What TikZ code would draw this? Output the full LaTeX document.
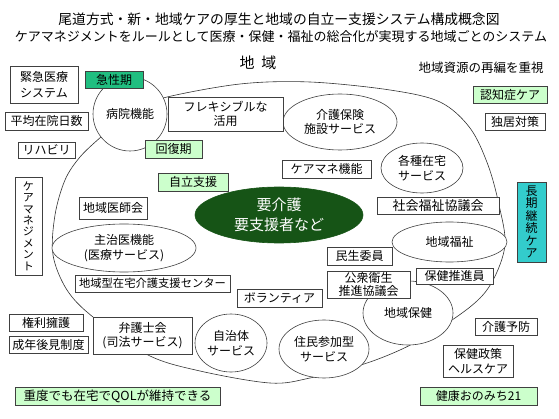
\documentclass[tikz,border=0pt]{standalone}
\usepackage{fontspec}
\setmainfont{Noto Sans CJK JP}
\usepackage{xcolor}
\usetikzlibrary{shapes.geometric}
\definecolor{lgreen}{RGB}{204,255,204}
\definecolor{kgreen}{RGB}{32,190,128}
\definecolor{dgreen}{RGB}{22,84,22}
\definecolor{qteal}{RGB}{51,204,204}
\newcommand{\jsize}[2]{\fontsize{#1}{#2}\selectfont}

\begin{document}
\begin{tikzpicture}[x=1pt,y=-1pt,
  box/.style={draw=black!75, fill=white, line width=0.7pt, inner sep=0pt, align=center, font=\jsize{12}{14.5}},
  gbox/.style={box, fill=lgreen},
  oval/.style={ellipse, draw=black!75, fill=white, line width=0.6pt, inner sep=0pt, align=center, font=\jsize{12}{14.5}},
  lbl/.style={inner sep=0pt, align=center}]

\useasboundingbox (0,0) rectangle (559,419);

% titles
\node[lbl, font=\jsize{13.8}{16}] (title1) at (279,19) {尾道方式・新・地域ケアの厚生と地域の自立ー支援システム構成概念図};
\node[lbl, font=\jsize{13}{16}] (title2) at (281,37) {ケアマネジメントをルールとして医療・保健・福祉の総合化が実現する地域ごとのシステム};
\node[lbl, font=\jsize{15}{16}] (chiiki) at (258,63) {地\hspace{0.45em}域};
\node[lbl, font=\jsize{12.5}{14}] (saihen) at (481,68) {地域資源の再編を重視};

% the region
\draw[line width=0.6pt, black!80] plot [smooth cycle, tension=0.55] coordinates {
 (163,98) (240,84) (310,82) (390,90) (440,102) (470,128) (488,165) (499,205)
 (505,245) (492,282) (470,307) (420,340) (370,362) (310,378) (270,383) (200,371)
 (148,355) (93,317) (67,290) (53,255) (55,215) (65,180) (80,157) (102,136) (130,112)};

% ovals
\node[oval, circle, minimum size=74] (byoin) at (130,114) {病院機能};
\node[oval, minimum width=114, minimum height=56] (kaigohoken) at (340,122) {介護保険\\施設サービス};
\node[oval, minimum width=82, minimum height=50] (kakushu) at (422,168) {各種在宅\\サービス};
\node[oval, minimum width=115, minimum height=40] (fukushi) at (449.5,242) {地域福祉};
\node[oval, minimum width=90, minimum height=64] (hoken) at (408,313) {地域保健};
\node[oval, minimum width=144, minimum height=48] (shuji) at (124,248) {主治医機能\\(医療サービス)};
\node[oval, minimum width=72, minimum height=58] (jichitai) at (231,343) {自治体\\サービス};
\node[oval, minimum width=90, minimum height=58] (jumin) at (324,349) {住民参加型\\サービス};
\node[oval, draw=dgreen, fill=dgreen, text=white, font=\jsize{15}{20}, minimum width=168, minimum height=56] (yokaigo) at (279,215) {要介護\\要支援者など};

% left side
\node[box, minimum width=68, minimum height=37, font=\jsize{12}{16}] (kinkyu) at (44,84.5) {緊急医療\\システム};
\node[box, fill=kgreen, minimum width=58, minimum height=17] (kyusei) at (114,79.5) {急性期};
\node[box, minimum width=115, minimum height=34] (flex) at (225.5,114) {フレキシブルな\\活用};
\node[box, minimum width=83, minimum height=18] (heikin) at (46.5,121) {平均在院日数};
\node[box, minimum width=57, minimum height=16] (rihabiri) at (46.5,150) {リハビリ};
\node[gbox, minimum width=57, minimum height=18] (kaifuku) at (173.5,149) {回復期};
\node[gbox, minimum width=70, minimum height=18] (jiritsu) at (193,182) {自立支援};
\node[box, minimum width=27, minimum height=98, font=\jsize{11}{11.4}] (caremgmt) at (28.5,226) {ケ\\ア\\マ\\ネ\\ジ\\メ\\ン\\ト};
\node[box, minimum width=68, minimum height=22] (ishikai) at (113,208) {地域医師会};
\node[box, minimum width=155, minimum height=17, font=\jsize{11.3}{14}] (center) at (152.5,283.5) {地域型在宅介護支援センター};
\node[box, minimum width=74, minimum height=17] (kenri) at (46,322.5) {権利擁護};
\node[box, minimum width=79, minimum height=17] (seinen) at (48.5,344.5) {成年後見制度};
\node[box, minimum width=99, minimum height=37] (bengoshi) at (142.5,335.5) {弁護士会\\(司法サービス)};
\node[box, minimum width=85, minimum height=18] (volunteer) at (279.5,298) {ボランティア};
\node[gbox, minimum width=205, minimum height=18, font=\jsize{12.5}{14}] (qol) at (117.5,396) {重度でも在宅でQOLが維持できる};

% right side
\node[box, minimum width=89, minimum height=18] (caremane) at (326.5,169) {ケアマネ機能};
\node[box, minimum width=122, minimum height=17, font=\jsize{13}{14}] (shakyo) at (438,205.5) {社会福祉協議会};
\node[box, minimum width=65, minimum height=18] (minsei) at (359.5,256) {民生委員};
\node[box, minimum width=83, minimum height=27, font=\jsize{12}{13}] (koshu) at (368.5,284.5) {公衆衛生\\推進協議会};
\node[box, minimum width=77, minimum height=16] (suishin) at (454.5,276) {保健推進員};
\node[gbox, minimum width=74, minimum height=17] (ninchi) at (510,94.5) {認知症ケア};
\node[box, minimum width=60, minimum height=17] (dokkyo) at (515,121.5) {独居対策};
\node[box, fill=qteal, minimum width=29, minimum height=80, font=\jsize{12}{12.5}] (choki) at (531.5,222) {長\\期\\継\\続\\ケ\\ア};
\node[box, minimum width=62, minimum height=17] (yobo) at (506,326.5) {介護予防};
\node[box, minimum width=70, minimum height=32] (seisaku) at (478,361) {保健政策\\ヘルスケア};
\node[gbox, minimum width=117, minimum height=18] (kenko) at (478.5,396) {健康おのみち21};

\end{tikzpicture}
\end{document}
